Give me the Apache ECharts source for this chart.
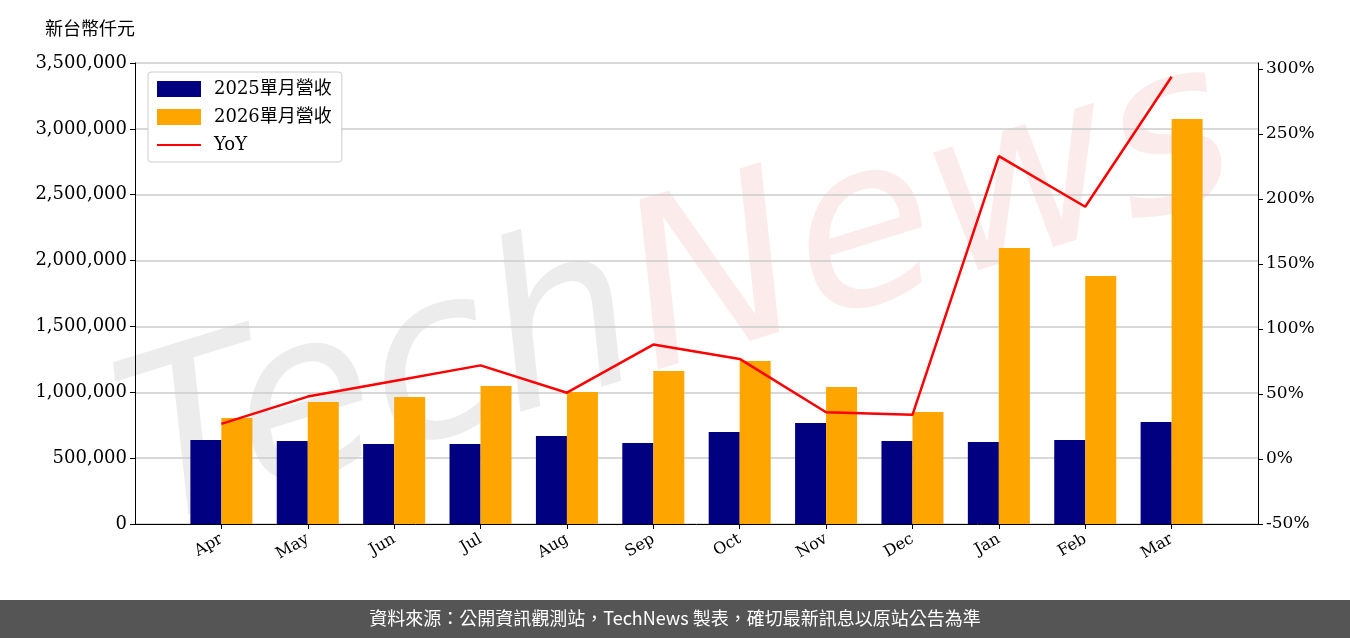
<!DOCTYPE html>
<html>
<head>
<meta charset="utf-8">
<script src="https://cdn.jsdelivr.net/npm/echarts@6/dist/echarts.min.js"></script>
<style>
  html, body { margin: 0; padding: 0; background: #fff; }
  #chart { width: 1350px; height: 638px; }
</style>
</head>
<body>
<div id="chart"></div>
<script>
var months = ['Apr', 'May', 'Jun', 'Jul', 'Aug', 'Sep', 'Oct', 'Nov', 'Dec', 'Jan', 'Feb', 'Mar'];
var rev2025 = [638000, 630000, 607000, 607000, 668000, 615000, 698000, 767000, 630000, 623000, 638000, 774000];
var rev2026 = [805000, 926000, 964000, 1048000, 1002000, 1162000, 1238000, 1040000, 850000, 2095000, 1883000, 3075000];
var yoy = [27, 48, 60, 72, 51, 88, 77, 36, 34, 233, 194, 294];

// empty slots at both ends give the axis its side margins
var cats = [''].concat(months, ['']);
function pad(arr) { return ['-'].concat(arr, ['-']); }

var font = "'DejaVu Serif', 'Noto Sans CJK TC', serif";
var myChart = echarts.init(document.getElementById('chart'));

var option = {
  animation: false,
  textStyle: { fontFamily: font },
  grid: { left: 135, right: 92, top: 63, bottom: 114 },
  legend: {
    orient: 'vertical',
    left: 148, top: 72,
    padding: [8, 10, 8, 8],
    itemGap: 10,
    itemWidth: 44, itemHeight: 16,
    borderColor: '#ccc', borderWidth: 1, borderRadius: 3,
    backgroundColor: '#fff',
    textStyle: { fontFamily: font, fontSize: 18, color: '#000', padding: [0, 0, 0, 8] },
    data: [
      { name: '2025單月營收', icon: 'rect' },
      { name: '2026單月營收', icon: 'rect' },
      { name: 'YoY', itemStyle: { opacity: 0 } }
    ]
  },
  xAxis: {
    type: 'category',
    data: cats,
    boundaryGap: false,
    axisTick: { show: true, length: 5, interval: function (i, v) { return v !== ''; }, lineStyle: { color: '#000' } },
    axisLine: { lineStyle: { color: '#000' } },
    axisLabel: { rotate: 30, fontSize: 16, color: '#000', fontFamily: font, margin: 14, interval: 0 }
  },
  yAxis: [
    {
      type: 'value', min: 0, max: 3500000, interval: 500000,
      name: '新台幣仟元',
      nameLocation: 'end', nameGap: 26,
      nameTextStyle: { fontSize: 18, color: '#000', align: 'right', fontFamily: "'Noto Sans CJK TC'" },
      axisLine: { show: true, lineStyle: { color: '#000' } },
      axisTick: { show: true, length: 5, lineStyle: { color: '#000' } },
      axisLabel: {
        fontSize: 18, color: '#000', fontFamily: font,
        formatter: function (v) { return v.toLocaleString('en-US'); }
      },
      splitLine: { lineStyle: { color: '#ccc', width: 1.5 } }
    },
    {
      type: 'value', min: -50, max: 304.6, interval: 50,
      axisLine: { show: true, lineStyle: { color: '#000' } },
      axisTick: { show: true, length: 5, lineStyle: { color: '#000' } },
      axisLabel: { fontSize: 17, color: '#000', fontFamily: font, showMaxLabel: false, formatter: '{value}%' },
      splitLine: { show: false }
    }
  ],
  graphic: [
    {
      type: 'text', x: 680, y: 300, z: 0, rotation: 0.3,
      style: {
        text: '{a|Tech}{b|News}', align: 'center', verticalAlign: 'middle',
        rich: {
          a: { fontSize: 230, fontFamily: "'DejaVu Sans'", fontStyle: 'italic', fill: 'rgba(170,170,170,0.22)' },
          b: { fontSize: 230, fontFamily: "'DejaVu Sans'", fontStyle: 'italic', fill: 'rgba(230,120,120,0.15)' }
        }
      }
    },
    {
      type: 'rect', left: 0, top: 600, z: 10,
      shape: { width: 1350, height: 38 },
      style: { fill: '#555' }
    },
    {
      type: 'text', left: 'center', top: 609, z: 11,
      style: { text: '資料來源：公開資訊觀測站，TechNews 製表，確切最新訊息以原站公告為準',
        fill: '#fff', fontSize: 18, fontFamily: "'Noto Sans CJK TC'" }
    }
  ],
  series: [
    {
      name: '2025單月營收', type: 'bar', data: pad(rev2025),
      barWidth: 31, barGap: '0%', itemStyle: { color: '#000080' }, z: 3
    },
    {
      name: '2026單月營收', type: 'bar', data: pad(rev2026),
      barWidth: 31, itemStyle: { color: '#FFA500' }, z: 3
    },
    {
      name: 'YoY', type: 'line', yAxisIndex: 1, data: pad(yoy),
      symbol: 'none', lineStyle: { color: '#ff0000', width: 2.5 }, itemStyle: { color: '#ff0000' }, z: 4
    }
  ]
};
myChart.setOption(option);
</script>
</body>
</html>
